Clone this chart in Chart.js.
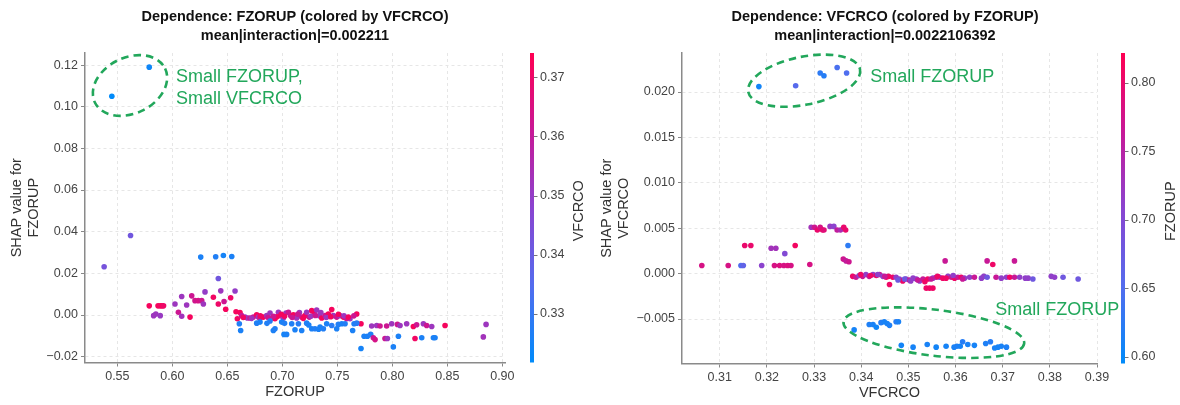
<!DOCTYPE html>
<html>
<head>
<meta charset="utf-8">
<title>SHAP dependence plots</title>
<script src="https://cdn.jsdelivr.net/npm/chart.js@4.4.1/dist/chart.umd.min.js"></script>
<style>
  html, body { margin: 0; padding: 0; background: #fff; }
  #wrap { display: flex; width: 1180px; height: 405px; }
  canvas { display: block; }
</style>
</head>
<body>
<div id="wrap">
  <canvas id="fzorupChart" width="590" height="405"></canvas>
  <canvas id="vfcrcoChart" width="590" height="405"></canvas>
</div>
<script>
// Left plot: x = FZORUP, y = SHAP value for FZORUP, colour = VFCRCO
const fzorupX = [
  0.545, 0.579, 0.538, 0.562,
  0.579, 0.583, 0.585, 0.587, 0.589, 0.5905, 0.592, 0.589,
  0.6024, 0.6055, 0.6085, 0.6085, 0.613, 0.6161, 0.6176, 0.6206, 0.6236, 0.6267,
  0.6282, 0.6297, 0.6373, 0.6418, 0.644, 0.647, 0.6485, 0.653, 0.657, 0.6579, 0.6591,
  0.6258, 0.6394, 0.6464, 0.654, 0.6418,
  0.6615, 0.663, 0.6661, 0.6682, 0.6706, 0.6736, 0.6767, 0.6782, 0.6797, 0.6827,
  0.6858, 0.6888, 0.6903, 0.6933, 0.6964, 0.6985, 0.7009, 0.7033, 0.7055, 0.7076,
  0.71, 0.713, 0.7155, 0.7176, 0.7206, 0.7221, 0.7245, 0.7267, 0.7288, 0.7312,
  0.7336, 0.7358, 0.7388, 0.7418, 0.7449, 0.7464, 0.7494, 0.7524, 0.7555, 0.7585,
  0.7615, 0.7676, 0.7715,
  0.6645, 0.672, 0.687, 0.695, 0.702, 0.709, 0.714, 0.719, 0.726, 0.73,
  0.735, 0.74, 0.744, 0.751, 0.756, 0.76, 0.765, 0.699, 0.68, 0.692,
  0.6609, 0.6621, 0.6767, 0.6797, 0.6888, 0.6918, 0.6933, 0.6994, 0.7015, 0.7039,
  0.7085, 0.7115, 0.7146, 0.7176, 0.7221, 0.7267, 0.7297, 0.7343, 0.7373, 0.7403,
  0.7449, 0.7494, 0.7509, 0.754, 0.757, 0.7639, 0.7652, 0.7676, 0.686, 0.724,
  0.702, 0.733,
  0.7715, 0.7743, 0.7773, 0.7803, 0.7827, 0.7843, 0.7812, 0.7858, 0.7888, 0.7933,
  0.7955, 0.7948, 0.7994, 0.8009, 0.8055, 0.8046, 0.807, 0.813, 0.8191, 0.8206,
  0.8221, 0.8267, 0.8282, 0.8312, 0.8358, 0.8373, 0.8388, 0.8479, 0.8827, 0.8852
];
const fzorupShap = [
  0.105, 0.119, 0.0232, 0.0382,
  0.0044, -0.0003, 0.0005, 0.0044, 0.0044, 0.0044, 0.0044, -0.0003,
  0.0053, 0.0013, 0.0089, -0.0006, 0.0048, -0.001, 0.0092, 0.0069, 0.0069, 0.0069,
  0.0053, 0.0111, 0.0085, 0.0053, 0.0116, 0.0065, 0.0028, 0.0083, 0.0115, 0.0016, -0.0018,
  0.0278, 0.028, 0.0286, 0.0281, 0.0175,
  0.0012, -0.0003, -0.001, -0.0014, -0.0014, -0.001, 0.0001, -0.001, -0.0015, -0.001,
  -0.0003, 0.001, -0.0015, -0.0018, 0.0013, -0.0003, -0.0014, 0.001, 0.0013, -0.0003,
  0.0001, -0.0014, 0.0012, -0.001, -0.0003, 0.0013, -0.001, 0.0021, 0.0013, 0.0024,
  -0.0003, -0.0014, -0.0003, 0.0005, 0.0026, -0.0003, -0.001, -0.0003, -0.001, -0.0018,
  -0.0018, 0.0005, -0.0042,
  -0.0012, -0.0016, -0.0012, -0.0008, -0.0006, -0.0012, 0.0004, -0.0016, -0.0006, -0.0002,
  0.0012, -0.0012, -0.0008, 0.0004, -0.0004, -0.001, -0.0004, 0.0004, -0.0004, -0.0006,
  -0.0042, -0.0074, -0.0039, -0.0034, -0.0029, -0.0074, -0.0066, -0.0034, -0.0093, -0.0093,
  -0.0042, -0.0071, -0.0042, -0.0074, -0.0039, -0.0066, -0.0066, -0.0058, -0.0066, -0.0042,
  -0.005, -0.0066, -0.0045, -0.0042, -0.0042, -0.0074, -0.0042, -0.0039, -0.004, -0.0048,
  -0.004, -0.0068,
  -0.0161, -0.0102, -0.0102, -0.0093, -0.0109, -0.0118, -0.0053, -0.005, -0.0053, -0.0113,
  -0.0113, -0.0053, -0.0042, -0.0153, -0.0102, -0.0045, -0.005, -0.0042, -0.0055, -0.0113,
  -0.0047, -0.0109, -0.0042, -0.005, -0.0055, -0.0109, -0.0109, -0.005, -0.0105, -0.0045
];
const fzorupColorBy = [
  0.322, 0.324, 0.343, 0.342,
  0.372, 0.352, 0.352, 0.372, 0.371, 0.372, 0.370, 0.351,
  0.352, 0.362, 0.352, 0.353, 0.352, 0.372, 0.362, 0.363, 0.364, 0.362,
  0.352, 0.350, 0.371, 0.370, 0.352, 0.362, 0.372, 0.370, 0.350, 0.372, 0.371,
  0.326, 0.327, 0.325, 0.326, 0.342,
  0.372, 0.362, 0.352, 0.352, 0.362, 0.362, 0.372, 0.352, 0.362, 0.372,
  0.352, 0.352, 0.352, 0.372, 0.352, 0.362, 0.352, 0.352, 0.362, 0.362,
  0.372, 0.352, 0.352, 0.362, 0.372, 0.352, 0.362, 0.372, 0.372, 0.352,
  0.352, 0.372, 0.362, 0.372, 0.372, 0.352, 0.362, 0.352, 0.372, 0.362,
  0.352, 0.372, 0.372,
  0.371, 0.353, 0.362, 0.372, 0.371, 0.362, 0.362, 0.372, 0.352, 0.362,
  0.352, 0.352, 0.372, 0.372, 0.352, 0.372, 0.362, 0.372, 0.371, 0.362,
  0.327, 0.326, 0.327, 0.326, 0.328, 0.326, 0.327, 0.326, 0.325, 0.326,
  0.327, 0.326, 0.328, 0.326, 0.327, 0.326, 0.327, 0.326, 0.327, 0.326,
  0.328, 0.326, 0.327, 0.326, 0.327, 0.326, 0.327, 0.328, 0.327, 0.326,
  0.327, 0.326,
  0.325, 0.326, 0.326, 0.327, 0.362, 0.364, 0.352, 0.352, 0.362, 0.362,
  0.352, 0.362, 0.352, 0.326, 0.326, 0.362, 0.352, 0.352, 0.372, 0.371,
  0.362, 0.326, 0.352, 0.362, 0.352, 0.326, 0.326, 0.372, 0.353, 0.352
];

// Right plot: x = VFCRCO, y = SHAP value for VFCRCO, colour = FZORUP
const vfcrcoX = [
  0.3183, 0.3261, 0.3313, 0.3321, 0.3349, 0.3369,
  0.3062, 0.3118, 0.3145, 0.315, 0.3153, 0.3166, 0.3189, 0.3209, 0.3219, 0.3216, 0.3227,
  0.3236, 0.3244, 0.3251, 0.3238, 0.326, 0.3291,
  0.3294, 0.3301, 0.3307, 0.3313, 0.3318, 0.3321, 0.3334, 0.3342, 0.3349, 0.3356, 0.3363, 0.3367,
  0.3372, 0.3362, 0.3368, 0.3374,
  0.3382, 0.3389, 0.3396, 0.3403, 0.341, 0.3417, 0.3425, 0.3432, 0.3439, 0.3446,
  0.3453, 0.3458, 0.346, 0.3467, 0.3474, 0.3481, 0.3488, 0.3495, 0.3502, 0.351,
  0.3517, 0.3524, 0.3531, 0.3538, 0.3545, 0.3552, 0.3541, 0.3552, 0.3559, 0.3566,
  0.3573, 0.3578, 0.3584, 0.3591, 0.3598, 0.3605, 0.3612, 0.3619, 0.363, 0.364,
  0.3655, 0.366, 0.3667, 0.3667, 0.3679, 0.3686, 0.3697, 0.3708, 0.3715, 0.3725,
  0.3725, 0.3736, 0.3748, 0.3754, 0.3764, 0.3803, 0.381, 0.3828, 0.386,
  0.3399, 0.342, 0.3435, 0.345, 0.3478, 0.3492, 0.3505, 0.352, 0.3535, 0.3548,
  0.3562, 0.358, 0.3595, 0.3615,
  0.3385, 0.3417, 0.3425, 0.3432, 0.3442, 0.3449, 0.3455, 0.346, 0.3474, 0.3479,
  0.3485, 0.351, 0.354, 0.3559, 0.358, 0.3597, 0.3603, 0.361, 0.3615, 0.3626,
  0.364, 0.3664, 0.3674, 0.3683, 0.369, 0.3697, 0.3708
];
const vfcrcoShap = [
  0.0206, 0.0207, 0.0221, 0.0218, 0.0227, 0.0221,
  0.0009, 0.0009, 0.0009, 0.0009, 0.0031, 0.0031, 0.0009, 0.0028, 0.0028, 0.0009, 0.0009,
  0.0009, 0.0009, 0.0009, 0.0022, 0.0031, 0.001,
  0.0051, 0.0051, 0.0048, 0.0051, 0.0048, 0.0048, 0.0052, 0.0052, 0.0048, 0.0048, 0.0051, 0.0048,
  0.0031, 0.0016, 0.0014, 0.0013,
  -0.0003, -0.0004, -0.0002, -0.0003, -0.0001, -0.0003, -0.0001, -0.0002, -0.0001, -0.0003,
  -0.0004, -0.0003, -0.0012, -0.0004, -0.0004, -0.0006, -0.0008, -0.0006, -0.0007, -0.0005,
  -0.0006, -0.0008, -0.0006, -0.0016, -0.0016, -0.0016, -0.0006, -0.0005, -0.0004, -0.0004,
  -0.0005, 0.0014, -0.0003, -0.0004, -0.0005, -0.0004, -0.0004, -0.0005, -0.0004, -0.0004,
  -0.0005, -0.0003, -0.0004, 0.0014, 0.001, -0.0004, -0.0005, -0.0004, -0.0004, 0.0014,
  -0.0004, -0.0004, -0.0005, -0.0005, -0.0006, -0.0003, -0.0004, -0.0004, -0.0006,
  -0.0001, -0.0002, -0.0001, -0.0003, -0.0007, -0.0006, -0.0008, -0.0007, -0.0009, -0.0006,
  -0.0003, -0.0005, -0.0002, -0.0006,
  -0.0062, -0.0056, -0.0056, -0.0059, -0.0054, -0.0053, -0.0055, -0.0057, -0.0053, -0.0053,
  -0.0079, -0.0081, -0.0078, -0.0081, -0.008, -0.0081, -0.008, -0.008, -0.0075, -0.0078,
  -0.0079, -0.0077, -0.0075, -0.0082, -0.0081, -0.008, -0.0081
];
const vfcrcoColorBy = [
  0.608, 0.655, 0.625, 0.62, 0.645, 0.648,
  0.78, 0.78, 0.65, 0.665, 0.8, 0.8, 0.71, 0.73, 0.73, 0.78, 0.785,
  0.78, 0.785, 0.78, 0.7, 0.81, 0.78,
  0.73, 0.77, 0.8, 0.78, 0.8, 0.79, 0.72, 0.71, 0.76, 0.74, 0.8, 0.8,
  0.625, 0.77, 0.76, 0.77,
  0.805, 0.765, 0.715, 0.765, 0.715, 0.765, 0.715, 0.805, 0.765, 0.715,
  0.805, 0.805, 0.805, 0.805, 0.715, 0.715, 0.805, 0.715, 0.765, 0.715,
  0.715, 0.715, 0.765, 0.805, 0.805, 0.805, 0.805, 0.715, 0.765, 0.715,
  0.805, 0.765, 0.715, 0.765, 0.805, 0.765, 0.805, 0.715, 0.715, 0.765,
  0.715, 0.715, 0.68, 0.765, 0.805, 0.765, 0.715, 0.715, 0.805, 0.765,
  0.765, 0.715, 0.715, 0.715, 0.68, 0.715, 0.715, 0.68, 0.68,
  0.805, 0.805, 0.715, 0.765, 0.68, 0.68, 0.715, 0.765, 0.805, 0.765,
  0.805, 0.805, 0.715, 0.765,
  0.61, 0.615, 0.612, 0.605, 0.618, 0.612, 0.61, 0.615, 0.62, 0.612,
  0.608, 0.61, 0.612, 0.608, 0.61, 0.612, 0.615, 0.61, 0.62, 0.612,
  0.61, 0.615, 0.62, 0.612, 0.61, 0.612, 0.615
];

// Tick labels
const fzorupTicksX = [0.55, 0.60, 0.65, 0.70, 0.75, 0.80, 0.85, 0.90];
const fzorupTicksY = [-0.02, 0.00, 0.02, 0.04, 0.06, 0.08, 0.10, 0.12];
const fzorupBarTicks = [0.33, 0.34, 0.35, 0.36, 0.37];
const vfcrcoTicksX = [0.31, 0.32, 0.33, 0.34, 0.35, 0.36, 0.37, 0.38, 0.39];
const vfcrcoTicksY = [-0.005, 0.000, 0.005, 0.010, 0.015, 0.020];
const vfcrcoBarTicks = [0.60, 0.65, 0.70, 0.75, 0.80];

// shap-like blue -> purple -> red colour map
const cmapStops = [
  [0.0, [0, 139, 250]],
  [0.25, [84, 108, 238]],
  [0.5, [138, 68, 208]],
  [0.75, [200, 24, 150]],
  [1.0, [255, 0, 82]]
];

function colorAt(t) {
  t = Math.max(0, Math.min(1, t));
  for (let i = 1; i < cmapStops.length; i++) {
    const [t1, c1] = cmapStops[i];
    const [t0, c0] = cmapStops[i - 1];
    if (t <= t1) {
      const f = (t - t0) / (t1 - t0);
      const c = c0.map((v, k) => Math.round(v + (c1[k] - v) * f));
      return `rgb(${c[0]}, ${c[1]}, ${c[2]})`;
    }
  }
  return 'rgb(255, 0, 82)';
}

// matplotlib style: real minus sign on negative ticks
function fmt(v, digits) {
  const s = Math.abs(v).toFixed(digits);
  return v < -1e-12 ? '\u2212' + s : s;
}

Chart.defaults.font.family = "'Liberation Sans', Arial, sans-serif";

const GREEN = '#22a75b';
const TICK_COLOR = '#444';

// Colour bar drawn next to the plot, positioned by the 'cb' scale
function colorbarPlugin(opts) {
  return {
    id: 'colorbar',
    afterDraw(chart) {
      const s = chart.scales.cb;
      const ctx = chart.ctx;
      const x = s.left + opts.offset;
      const grad = ctx.createLinearGradient(0, s.bottom, 0, s.top);
      cmapStops.forEach(([t, c]) => grad.addColorStop(t, `rgb(${c[0]}, ${c[1]}, ${c[2]})`));
      ctx.save();
      ctx.fillStyle = grad;
      ctx.fillRect(x, s.top, opts.width, s.bottom - s.top);
      ctx.strokeStyle = '#777';
      ctx.lineWidth = 1;
      s.ticks.forEach(t => {
        const y = Math.round(s.getPixelForValue(t.value)) + 0.5;
        ctx.beginPath();
        ctx.moveTo(x + opts.width, y);
        ctx.lineTo(x + opts.width + 3.5, y);
        ctx.stroke();
      });
      ctx.translate(s.left + opts.labelOffset, (s.top + s.bottom) / 2 + 3);
      ctx.rotate(-Math.PI / 2);
      ctx.fillStyle = '#333';
      ctx.font = "14.5px 'Liberation Sans', Arial, sans-serif";
      ctx.textAlign = 'center';
      ctx.textBaseline = 'middle';
      ctx.fillText(opts.label, 0, 0);
      ctx.restore();
    }
  };
}

// Green dashed rings and notes, anchored in data units
function notesPlugin(notes) {
  return {
    id: 'notes',
    afterDraw(chart) {
      const { ctx, scales: { x, y } } = chart;
      ctx.save();
      ctx.strokeStyle = GREEN;
      ctx.lineWidth = 2.6;
      ctx.setLineDash([7.5, 5]);
      notes.rings.forEach(r => {
        ctx.beginPath();
        ctx.ellipse(x.getPixelForValue(r.x), y.getPixelForValue(r.y), r.rx, r.ry, r.rot, 0, Math.PI * 2);
        ctx.stroke();
      });
      ctx.setLineDash([]);
      ctx.fillStyle = GREEN;
      ctx.font = "18px 'Liberation Sans', Arial, sans-serif";
      ctx.textBaseline = 'middle';
      notes.labels.forEach(l => {
        l.lines.forEach((line, i) => {
          ctx.fillText(line, x.getPixelForValue(l.x), y.getPixelForValue(l.y) + i * 22);
        });
      });
      ctx.restore();
    }
  };
}

function plotAxis(range, ticks, digits, title, size) {
  return {
    type: 'linear',
    min: range[0],
    max: range[1],
    afterBuildTicks: s => { s.ticks = ticks.map(v => ({ value: v })); },
    afterFit: s => {
      if (s.isHorizontal()) s.height = size;
      else s.width = size;
    },
    ticks: {
      callback: v => fmt(v, digits),
      color: TICK_COLOR,
      font: { size: 12.5 },
      padding: 3,
      maxRotation: 0,
      autoSkip: false
    },
    grid: { color: '#e6e6e6', lineWidth: 1, tickColor: '#888', tickLength: 4, tickWidth: 1 },
    border: { color: '#8a8a8a', width: 1.5, dash: [3, 3] },
    title: {
      display: true,
      text: title,
      color: '#333',
      font: { size: 14.5, lineHeight: 17 / 14.5 },
      padding: Array.isArray(title) ? { top: 8.5, bottom: 0 } : 0
    }
  };
}

function makeDependenceChart(canvasId, cfg) {
  const canvas = document.getElementById(canvasId);
  if (!canvas) {
    console.error('Canvas not found: ' + canvasId);
    return null;
  }
  const points = cfg.x.map((v, i) => ({ x: v, y: cfg.y[i] }));
  const colors = cfg.c.map(v => colorAt((v - cfg.barRange[0]) / (cfg.barRange[1] - cfg.barRange[0])));

  return new Chart(canvas.getContext('2d'), {
    type: 'scatter',
    data: {
      datasets: [{
        data: points,
        backgroundColor: colors,
        borderWidth: 0,
        pointRadius: 2.8,
        pointHoverRadius: 2.8
      }]
    },
    options: {
      responsive: false,
      animation: false,
      devicePixelRatio: 1,
      events: [],
      layout: { padding: 0 },
      plugins: {
        legend: { display: false },
        tooltip: { enabled: false },
        title: {
          display: true,
          text: cfg.title,
          color: '#111',
          font: { size: 14.5, weight: 'bold', lineHeight: 19 / 14.5 },
          padding: { top: 7.5, bottom: 7.5 }
        }
      },
      scales: {
        x: plotAxis(cfg.xRange, cfg.xTicks, cfg.xDigits, cfg.xTitle, 38),
        y: plotAxis(cfg.yRange, cfg.yTicks, cfg.yDigits, cfg.yTitle, cfg.leftWidth),
        cb: {
          type: 'linear',
          position: 'right',
          min: cfg.barRange[0],
          max: cfg.barRange[1],
          afterBuildTicks: s => { s.ticks = cfg.barTicks.map(v => ({ value: v })); },
          afterFit: s => { s.width = cfg.rightWidth; },
          ticks: {
            callback: v => fmt(v, 2),
            color: TICK_COLOR,
            font: { size: 12.5 },
            padding: cfg.barOffset + 10
          },
          grid: { display: false, drawOnChartArea: false, drawTicks: false },
          border: { display: false }
        }
      }
    },
    plugins: [
      colorbarPlugin({ offset: cfg.barOffset, width: 4, labelOffset: 74, label: cfg.barLabel }),
      notesPlugin(cfg.notes)
    ]
  });
}

document.addEventListener('DOMContentLoaded', () => {
  makeDependenceChart('fzorupChart', {
    title: ['Dependence: FZORUP (colored by VFCRCO)', 'mean|interaction|=0.002211'],
    x: fzorupX, y: fzorupShap, c: fzorupColorBy,
    xRange: [0.5206, 0.9024], xTicks: fzorupTicksX, xDigits: 2, xTitle: 'FZORUP',
    yRange: [-0.0228, 0.1258], yTicks: fzorupTicksY, yDigits: 2, yTitle: ['SHAP value for', 'FZORUP'],
    barRange: [0.3218, 0.3741], barTicks: fzorupBarTicks, barLabel: 'VFCRCO',
    leftWidth: 85, rightWidth: 85, barOffset: 25,
    notes: {
      rings: [{ x: 0.5615, y: 0.1102, rx: 39, ry: 28, rot: -0.45 }],
      labels: [{ x: 0.6033, y: 0.1144, lines: ['Small FZORUP,', 'Small VFCRCO'] }]
    }
  });

  makeDependenceChart('vfcrcoChart', {
    title: ['Dependence: VFCRCO (colored by FZORUP)', 'mean|interaction|=0.0022106392'],
    x: vfcrcoX, y: vfcrcoShap, c: vfcrcoColorBy,
    xRange: [0.302, 0.390], xTicks: vfcrcoTicksX, xDigits: 2, xTitle: 'VFCRCO',
    yRange: [-0.0099, 0.0243], yTicks: vfcrcoTicksY, yDigits: 3, yTitle: ['SHAP value for', 'VFCRCO'],
    barRange: [0.5949, 0.8219], barTicks: vfcrcoBarTicks, barLabel: 'FZORUP',
    leftWidth: 92, rightWidth: 83, barOffset: 24,
    notes: {
      rings: [
        { x: 0.3279, y: 0.02125, rx: 57, ry: 24, rot: -0.2 },
        { x: 0.3554, y: -0.0065, rx: 91, ry: 23, rot: 0.12 }
      ],
      labels: [
        { x: 0.3419, y: 0.02169, lines: ['Small FZORUP'] },
        { x: 0.3684, y: -0.00402, lines: ['Small FZORUP'] }
      ]
    }
  });
});
</script>
</body>
</html>
